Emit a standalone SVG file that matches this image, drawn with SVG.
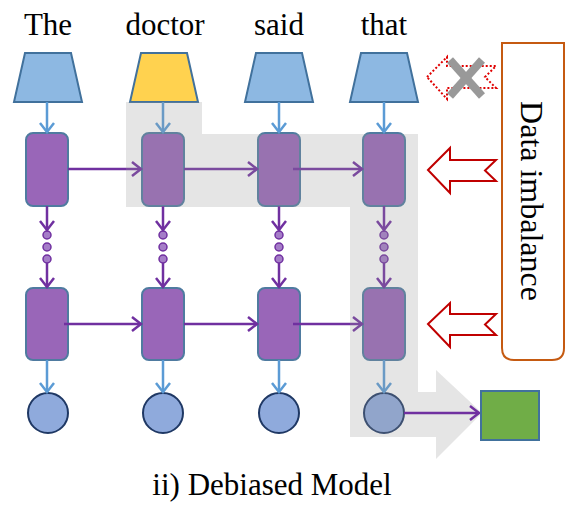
<svg xmlns="http://www.w3.org/2000/svg" width="588" height="516" viewBox="0 0 588 516">
<defs>
<style>
.word{font-family:"Liberation Serif","Times New Roman",serif;font-size:31px;fill:#000;text-anchor:middle}
.trap{fill:#8DB8E2;stroke:#41719C;stroke-width:2;stroke-linejoin:miter}
.box{fill:#9966B8;stroke:#4F7BA0;stroke-width:2}
.dot{fill:#A57DC8;stroke:#7030A0;stroke-width:1.5}
.out{fill:#8FAADC;stroke:#1F3864;stroke-width:2}
.pa{stroke:#7030A0;stroke-width:2.5;fill:none;marker-end:url(#mp)}
.ba{stroke:#5B9BD5;stroke-width:2.5;fill:none;marker-end:url(#mb)}
.red{fill:#fff;stroke:#C00000;stroke-width:2}
</style>
<marker id="mp" markerUnits="userSpaceOnUse" markerWidth="14" markerHeight="16" viewBox="-12 -8 14 16" refX="0" refY="0" orient="auto">
<path d="M-9,-7 L0,0 L-9,7" fill="none" stroke="#7030A0" stroke-width="2.5"/>
</marker>
<marker id="mb" markerUnits="userSpaceOnUse" markerWidth="14" markerHeight="16" viewBox="-12 -8 14 16" refX="0" refY="0" orient="auto">
<path d="M-9,-7 L0,0 L-9,7" fill="none" stroke="#5B9BD5" stroke-width="2.5"/>
</marker>
</defs>
<rect width="588" height="516" fill="#fff"/>

<g id="words">
<text class="word" x="48" y="35">The</text>
<text class="word" x="165" y="35">doctor</text>
<text class="word" x="279" y="35">said</text>
<text class="word" x="384" y="35">that</text>
</g>

<g id="embeddings">
<polygon id="emb1" class="trap" points="25,53 71,53 82,102 14,102"/>
<polygon id="emb2" class="trap" style="fill:#FFD24F" points="141,53 187,53 198,102 130,102"/>
<polygon id="emb3" class="trap" points="256,53 302,53 313,102 245,102"/>
<polygon id="emb4" class="trap" points="361,53 407,53 418,102 350,102"/>
</g>

<g id="layer1">
<rect id="h11" class="box" x="26" y="133" width="42" height="73" rx="7"/>
<rect id="h12" class="box" x="142" y="133" width="42" height="73" rx="7"/>
<rect id="h13" class="box" x="258" y="133" width="42" height="73" rx="7"/>
<rect id="h14" class="box" x="363" y="133" width="42" height="73" rx="7"/>
</g>

<g id="layer2">
<rect id="h21" class="box" x="26" y="288" width="42" height="72" rx="7"/>
<rect id="h22" class="box" x="142" y="288" width="42" height="72" rx="7"/>
<rect id="h23" class="box" x="258" y="288" width="42" height="72" rx="7"/>
<rect id="h24" class="box" x="363" y="288" width="42" height="72" rx="7"/>
</g>

<g id="dots">
<circle class="dot" cx="47" cy="235" r="4"/><circle class="dot" cx="47" cy="247" r="4"/><circle class="dot" cx="47" cy="259" r="4"/>
<circle class="dot" cx="163" cy="235" r="4"/><circle class="dot" cx="163" cy="247" r="4"/><circle class="dot" cx="163" cy="259" r="4"/>
<circle class="dot" cx="279" cy="235" r="4"/><circle class="dot" cx="279" cy="247" r="4"/><circle class="dot" cx="279" cy="259" r="4"/>
<circle class="dot" cx="384" cy="235" r="4"/><circle class="dot" cx="384" cy="247" r="4"/><circle class="dot" cx="384" cy="259" r="4"/>
</g>

<g id="outputs">
<circle id="o1" class="out" cx="48" cy="413" r="20"/>
<circle id="o2" class="out" cx="163" cy="413" r="20"/>
<circle id="o3" class="out" cx="279" cy="413" r="20"/>
<circle id="o4" class="out" cx="384" cy="413" r="20"/>
</g>

<g id="connectors">
<line class="ba" x1="47" y1="102" x2="47" y2="132"/>
<line class="ba" x1="163" y1="102" x2="163" y2="132"/>
<line class="ba" x1="279" y1="102" x2="279" y2="132"/>
<line class="ba" x1="384" y1="102" x2="384" y2="132"/>
<line class="pa" x1="68" y1="169" x2="141" y2="169"/>
<line class="pa" x1="184" y1="169" x2="257" y2="169"/>
<line class="pa" x1="293" y1="169" x2="362" y2="169"/>
<line class="pa" x1="64" y1="324" x2="141" y2="324"/>
<line class="pa" x1="184" y1="324" x2="257" y2="324"/>
<line class="pa" x1="293" y1="324" x2="362" y2="324"/>
<line class="pa" x1="47" y1="206" x2="47" y2="230"/>
<line class="pa" x1="163" y1="206" x2="163" y2="230"/>
<line class="pa" x1="279" y1="206" x2="279" y2="230"/>
<line class="pa" x1="384" y1="206" x2="384" y2="230"/>
<line class="pa" x1="47" y1="263" x2="47" y2="287"/>
<line class="pa" x1="163" y1="263" x2="163" y2="287"/>
<line class="pa" x1="279" y1="263" x2="279" y2="287"/>
<line class="pa" x1="384" y1="263" x2="384" y2="287"/>
<line class="ba" x1="47" y1="360" x2="47" y2="392"/>
<line class="ba" x1="163" y1="360" x2="163" y2="392"/>
<line class="ba" x1="279" y1="360" x2="279" y2="392"/>
<line class="ba" x1="384" y1="360" x2="384" y2="392"/>
</g>

<polygon id="highlight" points="126,102 202,102 202,134 418,134 418,392 436,392 436,370 482,413 436,459 436,437 350,437 350,207 126,207" fill="#999" fill-opacity="0.25"/>

<g id="prediction">
<line class="pa" x1="404" y1="413" x2="479" y2="413"/>
<rect id="pred" x="481" y="391" width="58" height="49" fill="#70AD47" stroke="#41719C" stroke-width="2"/>
</g>

<g id="imbalance">
<path d="M502,43 H564 V348 Q564,360 552,360 H514 Q502,360 502,348 Z" fill="#fff" stroke="#C55A11" stroke-width="2"/>
<text transform="translate(521,201) rotate(90)" x="0" y="0" font-family="Liberation Serif,Times New Roman,serif" font-size="32" text-anchor="middle">Data imbalance</text>
</g>

<g id="red-arrows">
<polygon class="red" points="428,170 450,148 450,160 496,160 485,170.5 496,181 450,181 450,193"/>
<polygon class="red" points="428,324 450,303 450,314 496,314 485,324.5 496,335 450,335 450,347"/>
<polygon points="427,77 447,57 447,66 496,66 485,77 496,88 447,88 447,99" fill="none" stroke="#E00000" stroke-width="2" stroke-dasharray="2,2"/>
<g stroke="#999" stroke-width="8">
<line x1="450" y1="60" x2="482" y2="96"/>
<line x1="482" y1="60" x2="450" y2="96"/>
</g>
</g>

<text class="word" x="272" y="495" style="font-size:31px">ii) Debiased Model</text>
</svg>
